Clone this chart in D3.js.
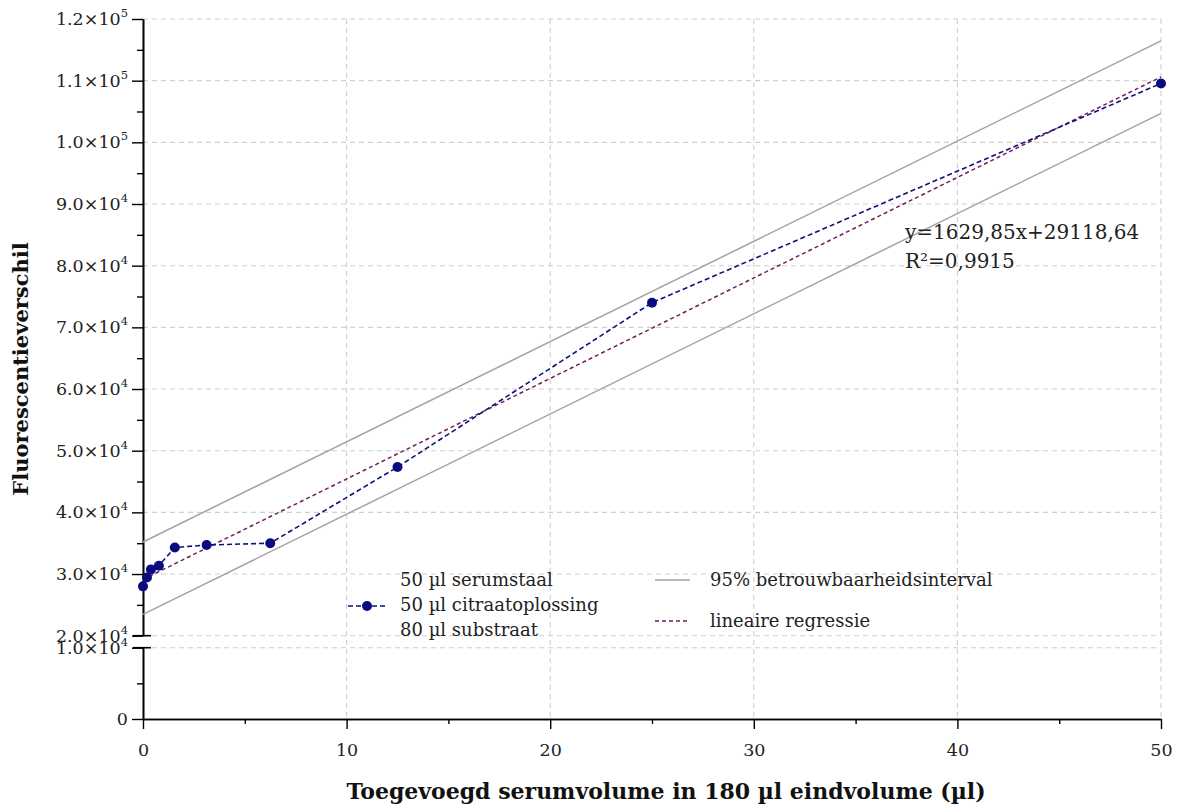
<!DOCTYPE html>
<html><head><meta charset="utf-8">
<script src="https://cdn.jsdelivr.net/npm/d3@7"></script>
<style>body{margin:0;background:#fff} svg{display:block}</style>
</head><body><svg id="c" width="1179" height="810"></svg>
<script>
// ---- data ----
const xValues = [0, 0.195, 0.39, 0.78, 1.5625, 3.125, 6.25, 12.5, 25, 50];
const yValues = [28000, 29450, 30750, 31350, 34300, 34700, 35000, 47350, 74000, 109550];
const xTicks = [0, 10, 20, 30, 40, 50];
const xMinorTicks = [5, 15, 25, 35, 45];
const yTicksUpper = [20000, 30000, 40000, 50000, 60000, 70000, 80000, 90000, 100000, 110000, 120000];
const yTickMantissaUpper = ["2.0", "3.0", "4.0", "5.0", "6.0", "7.0", "8.0", "9.0", "1.0", "1.1", "1.2"];
const yTickExpUpper = ["4", "4", "4", "4", "4", "4", "4", "4", "5", "5", "5"];
const yMinorUpper = [25000, 35000, 45000, 55000, 65000, 75000, 85000, 95000, 105000, 115000];
const yTicksLower = [0, 10000];
const yTickMantissaLower = ["0", "1.0"];
const yTickExpLower = ["", "4"];
const yMinorLower = [5000];
const regSlope = 1629.85, regIntercept = 29118.64;
const regX = [0, 50];
const ciX = [0, 50];
const ciUpper = [35200, 116450];
const ciLower = [23450, 104700];
const equationLines = ["y=1629,85x+29118,64", "R²=0,9915"];
const legendSeriesLines = ["50 µl serumstaal", "50 µl citraatoplossing", "80 µl substraat"];
const legendCI = "95% betrouwbaarheidsinterval";
const legendReg = "lineaire regressie";
const xTitle = "Toegevoegd serumvolume in 180 µl eindvolume (µl)";
const yTitle = "Fluorescentieverschil";

// ---- layout ----
const FONT = "'DejaVu Serif', 'Liberation Serif', serif";
const svg = d3.select("#c");
const x = d3.scaleLinear().domain([0, 50]).range([143, 1161]);
const yHi = d3.scaleLinear().domain([20000, 120000]).range([635.7, 19]);
const yLo = d3.scaleLinear().domain([0, 10000]).range([719, 647.7]);
const y = v => v >= 20000 ? yHi(v) : yLo(v);

const gridColor = "#cfcfcf";
const grid = svg.append("g");
yTicksUpper.forEach(v => grid.append("line").attr("x1", x(0)).attr("x2", x(50)).attr("y1", yHi(v)).attr("y2", yHi(v)));
grid.append("line").attr("x1", x(0)).attr("x2", x(50)).attr("y1", yLo(10000)).attr("y2", yLo(10000));
xTicks.filter(d => d > 0).forEach(v => grid.append("line").attr("x1", x(v)).attr("x2", x(v)).attr("y1", yHi(120000)).attr("y2", yLo(0)));
grid.selectAll("line").attr("stroke", gridColor).attr("stroke-width", 1.1).attr("stroke-dasharray", "5,4");

// ---- axes ----
function styleAxis(g) {
  g.selectAll(".domain").attr("stroke", "#000").attr("stroke-width", 1.6);
  g.selectAll(".tick line").attr("stroke", "#000").attr("stroke-width", 1.4);
}
const gyU = svg.append("g").attr("transform", `translate(${x(0)},0)`)
  .call(d3.axisLeft(yHi).tickValues(yTicksUpper).tickSize(11).tickSizeOuter(0).tickFormat(""));
const gyUm = svg.append("g").attr("transform", `translate(${x(0)},0)`)
  .call(d3.axisLeft(yHi).tickValues(yMinorUpper).tickSize(6).tickSizeOuter(0).tickFormat(""));
const gyL = svg.append("g").attr("transform", `translate(${x(0)},0)`)
  .call(d3.axisLeft(yLo).tickValues(yTicksLower).tickSize(11).tickSizeOuter(0).tickFormat(""));
const gyLm = svg.append("g").attr("transform", `translate(${x(0)},0)`)
  .call(d3.axisLeft(yLo).tickValues(yMinorLower).tickSize(6).tickSizeOuter(0).tickFormat(""));
const gx = svg.append("g").attr("transform", `translate(0,${yLo(0)})`)
  .call(d3.axisBottom(x).tickValues(xTicks).tickSize(10).tickSizeOuter(0).tickFormat(d3.format("d")));
const gxm = svg.append("g").attr("transform", `translate(0,${yLo(0)})`)
  .call(d3.axisBottom(x).tickValues(xMinorTicks).tickSize(5).tickSizeOuter(0).tickFormat(""));
[gyU, gyUm, gyL, gyLm, gx, gxm].forEach(styleAxis);
gx.selectAll(".tick text").attr("font-family", FONT).attr("font-size", 17.5).attr("fill", "#222")
  .attr("y", 0).attr("dy", null).attr("transform", "translate(0,37)");

// break marks
[yHi(20000), yLo(10000)].forEach(v => svg.append("line").attr("x1", x(0) - 10).attr("x2", x(0) + 8)
  .attr("y1", v).attr("y2", v).attr("stroke", "#000").attr("stroke-width", 1.6));

// y tick labels with superscripts
function yLabels(ticks, mant, exp, sc) {
  const g = svg.append("g").attr("font-family", FONT).attr("fill", "#222");
  ticks.forEach((v, i) => {
    const t = g.append("text").attr("x", 128).attr("y", sc(v) + 6).attr("text-anchor", "end").attr("font-size", 17.5);
    if (exp[i]) {
      t.append("tspan").text(mant[i] + "×10");
      t.append("tspan").attr("font-size", 11.5).attr("dy", -8).text(exp[i]);
    } else {
      t.append("tspan").text(mant[i]);
    }
  });
}
yLabels(yTicksUpper, yTickMantissaUpper, yTickExpUpper, yHi);
yLabels(yTicksLower, yTickMantissaLower, yTickExpLower, yLo);

// ---- series ----
const line = d3.line().x(d => x(d[0])).y(d => y(d[1]));
svg.append("path").datum(ciX.map((d, i) => [d, ciUpper[i]])).attr("d", line)
  .attr("fill", "none").attr("stroke", "#a3a3a3").attr("stroke-width", 1.5);
svg.append("path").datum(ciX.map((d, i) => [d, ciLower[i]])).attr("d", line)
  .attr("fill", "none").attr("stroke", "#a3a3a3").attr("stroke-width", 1.5);
svg.append("path").datum(regX.map(d => [d, regSlope * d + regIntercept])).attr("d", line)
  .attr("fill", "none").attr("stroke", "#6e1f5c").attr("stroke-width", 1.5).attr("stroke-dasharray", "4,3");
const pts = xValues.map((d, i) => [d, yValues[i]]);
svg.append("path").datum(pts).attr("d", line)
  .attr("fill", "none").attr("stroke", "#10107a").attr("stroke-width", 1.6).attr("stroke-dasharray", "5,3");
svg.append("g").selectAll("circle").data(pts).join("circle")
  .attr("cx", d => x(d[0])).attr("cy", d => y(d[1])).attr("r", 5).attr("fill", "#0b0b80");

// ---- equation ----
const eq = svg.append("g").attr("font-family", FONT).attr("font-size", 20).attr("fill", "#222");
eq.append("text").attr("x", 905).attr("y", 239).text(equationLines[0]);
eq.append("text").attr("x", 905).attr("y", 268).text(equationLines[1]);

// ---- legend ----
const lg = svg.append("g").attr("font-family", FONT).attr("font-size", 18).attr("fill", "#222");
legendSeriesLines.forEach((s, i) => lg.append("text").attr("x", 400).attr("y", 586 + i * 25).text(s));
lg.append("line").attr("x1", 348).attr("x2", 386).attr("y1", 606).attr("y2", 606)
  .attr("stroke", "#10107a").attr("stroke-width", 1.6).attr("stroke-dasharray", "5,3");
lg.append("circle").attr("cx", 367).attr("cy", 606).attr("r", 5).attr("fill", "#0b0b80");
lg.append("line").attr("x1", 655).attr("x2", 690).attr("y1", 580).attr("y2", 580)
  .attr("stroke", "#a3a3a3").attr("stroke-width", 1.5);
lg.append("text").attr("x", 710).attr("y", 586).text(legendCI);
lg.append("line").attr("x1", 655).attr("x2", 690).attr("y1", 621).attr("y2", 621)
  .attr("stroke", "#6e1f5c").attr("stroke-width", 1.5).attr("stroke-dasharray", "4,3");
lg.append("text").attr("x", 710).attr("y", 627).text(legendReg);

// ---- titles ----
svg.append("text").attr("x", 666).attr("y", 799).attr("text-anchor", "middle")
  .attr("font-family", FONT).attr("font-weight", "bold").attr("font-size", 22).attr("fill", "#111").text(xTitle);
svg.append("text").attr("transform", "translate(28,369) rotate(-90)").attr("text-anchor", "middle")
  .attr("font-family", FONT).attr("font-weight", "bold").attr("font-size", 21).attr("fill", "#111").text(yTitle);
</script>
</body></html>
